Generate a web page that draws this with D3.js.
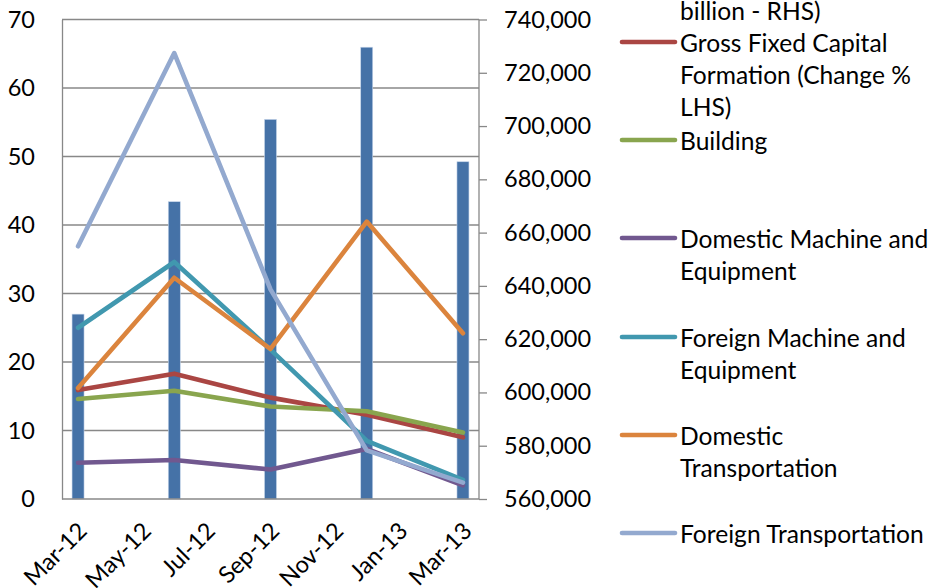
<!DOCTYPE html>
<html>
<head>
<meta charset="utf-8">
<script src="https://cdn.jsdelivr.net/npm/d3@7"></script>
<style>
  html, body { margin: 0; padding: 0; background: #fff; }
  svg { display: block; }
  text { font-family: Lato, "Open Sans", sans-serif; fill: #000; }
</style>
</head>
<body>
<svg id="chart" width="944" height="588"></svg>
<script>
// Monthly slots of the date axis and the labelled months
const months = ["Mar-12","Apr-12","May-12","Jun-12","Jul-12","Aug-12","Sep-12",
                "Oct-12","Nov-12","Dec-12","Jan-13","Feb-13","Mar-13"];
const tickMonths = ["Mar-12","May-12","Jul-12","Sep-12","Nov-12","Jan-13","Mar-13"];

// Quarterly observations
const periods = ["Mar-12","Jun-12","Sep-12","Dec-12","Mar-13"];

// Gross Fixed Capital Formation level (Rp billion, right axis)
const gfcfLevel = [629400, 671600, 702500, 729600, 686600];

// Growth rates, % (left axis)
const gfcfChange   = [15.9, 18.3, 14.8, 12.3, 9.0];
const building     = [14.6, 15.8, 13.5, 12.8, 9.7];
const domMachine   = [5.3, 5.7, 4.3, 7.3, 2.0];
const forMachine   = [25.0, 34.6, 21.8, 8.5, 2.8];
const domTransport = [16.2, 32.3, 21.9, 40.5, 24.2];
const forTransport = [36.9, 65.1, 30.6, 7.1, 2.4];

const leftTicks  = [0, 10, 20, 30, 40, 50, 60, 70];
const rightTicks = [560000, 580000, 600000, 620000, 640000, 660000, 680000, 700000, 720000, 740000];

const lineSeries = [
  { name: ["Gross Fixed Capital", "Formation (Change %", "LHS)"], values: gfcfChange,   color: "#AA4643" },
  { name: ["Building"],                                         values: building,     color: "#89A54E" },
  { name: ["Domestic Machine and", "Equipment"],                 values: domMachine,   color: "#71588F" },
  { name: ["Foreign Machine and", "Equipment"],                  values: forMachine,   color: "#4198AF" },
  { name: ["Domestic", "Transportation"],                        values: domTransport, color: "#DB843D" },
  { name: ["Foreign Transportation"],                            values: forTransport, color: "#93A9CF" }
];

const svg = d3.select("#chart");
const plot = { left: 62, right: 479, top: 19.5, bottom: 499 };
const fontSize = 23.5;
const legendFont = 24.6;

const x = d3.scaleBand().domain(months).range([plot.left, plot.right]).padding(0);
const cx = m => x(m) + x.bandwidth() / 2;
const yL = d3.scaleLinear().domain([0, 70]).range([plot.bottom, plot.top]);
const yR = d3.scaleLinear().domain([560000, 740000]).range([plot.bottom, plot.top]);

// Horizontal gridlines from the left axis
svg.append("g")
  .selectAll("line").data(leftTicks.slice(1)).join("line")
  .attr("x1", plot.left).attr("x2", plot.right)
  .attr("y1", d => yL(d)).attr("y2", d => yL(d))
  .attr("stroke", "#888").attr("stroke-width", 1.3);

// Columns: GFCF level on the right axis
const barW = 12;
svg.append("g")
  .selectAll("rect").data(periods).join("rect")
  .attr("x", d => cx(d) - barW / 2)
  .attr("width", barW)
  .attr("y", (d, i) => yR(gfcfLevel[i]))
  .attr("height", (d, i) => plot.bottom - yR(gfcfLevel[i]))
  .attr("fill", "#4572A7")
  .attr("stroke", "#c6d5ea").attr("stroke-width", 0.6);

// Growth lines
const line = d3.line().x((d, i) => cx(periods[i])).y(d => yL(d));
svg.append("g")
  .selectAll("path").data(lineSeries).join("path")
  .attr("d", s => line(s.values))
  .attr("fill", "none")
  .attr("stroke", s => s.color)
  .attr("stroke-width", 4.6)
  .attr("stroke-linejoin", "round")
  .attr("stroke-linecap", "round");

// Left axis
const leftAxis = svg.append("g")
  .attr("transform", `translate(${plot.left},0)`)
  .call(d3.axisLeft(yL).tickValues(leftTicks).tickSize(0).tickPadding(27).tickFormat(d3.format("d")));
leftAxis.select(".domain").attr("stroke", "#888").attr("stroke-width", 1.3);
leftAxis.selectAll("text").style("font-size", fontSize + "px").attr("font-family", null);

// Right axis
const rightAxis = svg.append("g")
  .attr("transform", `translate(${plot.right},0)`)
  .call(d3.axisRight(yR).tickValues(rightTicks).tickSize(8).tickPadding(17).tickFormat(d3.format(",")));
rightAxis.select(".domain").attr("stroke", "#888").attr("stroke-width", 1.3)
  .attr("d", `M0,${plot.top}V${plot.bottom}`);
rightAxis.selectAll(".tick line").attr("stroke", "#888").attr("stroke-width", 1.3);
rightAxis.selectAll("text").style("font-size", fontSize + "px").attr("font-family", null);

// Bottom axis (monthly date axis, labels every second month)
const bottomAxis = svg.append("g")
  .attr("transform", `translate(0,${plot.bottom})`)
  .call(d3.axisBottom(x).tickValues(tickMonths).tickSize(0).tickPadding(0));
bottomAxis.select(".domain").attr("stroke", "#888").attr("stroke-width", 1.3)
  .attr("d", `M${plot.left},0H${plot.right}`);
bottomAxis.selectAll("text")
  .style("font-size", fontSize + "px").attr("font-family", null)
  .attr("text-anchor", "end")
  .attr("dy", null).attr("y", 0)
  .attr("transform", "translate(4,27) rotate(-45)")
  .attr("dominant-baseline", "central");

// Legend
const legend = svg.append("g");
legend.append("text")
  .attr("x", 680).attr("y", 10).attr("dominant-baseline", "central")
  .style("font-size", legendFont + "px")
  .text("billion - RHS)");

const entryY = [42, 140, 238, 337, 435, 533];
const entries = legend.selectAll("g.entry").data(lineSeries).join("g")
  .attr("class", "entry")
  .attr("transform", (d, i) => `translate(0,${entryY[i]})`);
entries.append("line")
  .attr("x1", 622).attr("x2", 675).attr("y1", 0).attr("y2", 0)
  .attr("stroke", d => d.color).attr("stroke-width", 4.6).attr("stroke-linecap", "round");
entries.append("text")
  .attr("x", 680).attr("y", 0)
  .style("font-size", legendFont + "px")
  .selectAll("tspan").data(d => d.name).join("tspan")
  .attr("x", 680).attr("y", (d, i) => i * 32)
  .attr("dominant-baseline", "central")
  .text(d => d);
</script>
</body>
</html>
